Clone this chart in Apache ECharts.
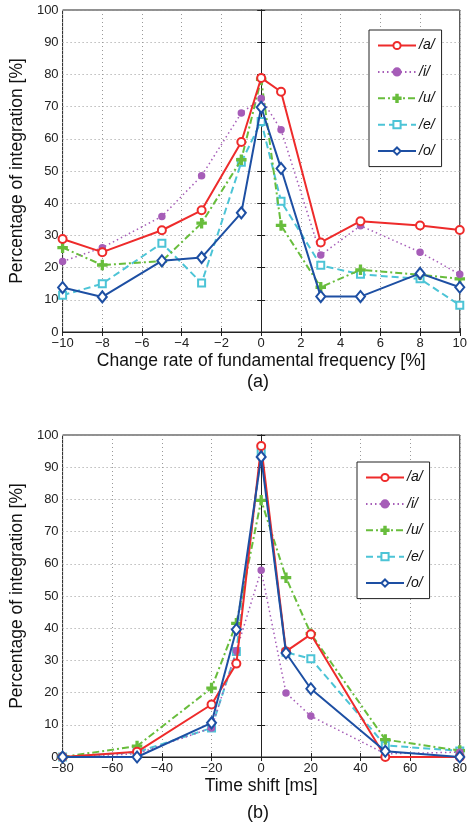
<!DOCTYPE html>
<html>
<head>
<meta charset="utf-8">
<script src="https://cdn.jsdelivr.net/npm/echarts@6/dist/echarts.min.js"></script>
<style>
html,body{margin:0;padding:0;background:#fff;}
#c{width:470px;height:825px;}
</style>
</head>
<body>
<div id="c"></div>
<script>
// Panel (a): change rate of fundamental frequency
var fX = [-10, -8, -5, -3, -1, 0, 1, 3, 5, 8, 10];
var fA = [28.9, 24.8, 31.6, 37.8, 59.0, 78.9, 74.6, 27.8, 34.4, 33.1, 31.7];
var fI = [21.9, 26.2, 35.9, 48.5, 68.0, 72.5, 62.8, 23.9, 33.0, 24.8, 17.9];
var fU = [26.2, 20.8, 22.0, 33.8, 53.5, 78.5, 33.1, 13.9, 19.3, 17.8, 16.5];
var fE = [11.4, 15.0, 27.6, 15.2, 52.7, 65.4, 40.6, 20.7, 17.9, 16.5, 8.3];
var fO = [13.8, 10.9, 22.1, 23.1, 37.0, 69.8, 50.8, 11.0, 11.0, 18.2, 13.9];

// Panel (b): time shift
var tX = [-80, -50, -20, -10, 0, 10, 20, 50, 80];
var tA = [0, 1.6, 16.3, 29.0, 96.6, 32.8, 38.1, 0, 0];
var tI = [0, 1.0, 9.0, 33.0, 58.0, 19.9, 12.7, 1.0, 1.5];
var tU = [0, 3.4, 21.4, 41.5, 79.7, 55.7, 38.3, 5.4, 2.0];
var tE = [0, 1.5, 9.0, 32.8, 94.7, 32.5, 30.5, 3.6, 1.9];
var tO = [0, 0, 10.6, 39.6, 93.2, 32.3, 21.2, 1.8, 0];

var names = ['/a/', '/i/', '/u/', '/e/', '/o/'];
var xTitleA = 'Change rate of fundamental frequency [%]';
var xTitleB = 'Time shift [ms]';
var yTitle = 'Percentage of integration [%]';

var FONT = '"Liberation Sans", Arial, sans-serif';
var plusPath = 'path://M4,0h2v4h4v2h-4v4h-2v-4h-4v-2h4z';

var styles = [
  {color: '#ee2b2b', type: 'solid', width: 2, symbol: 'emptyCircle', size: 8},
  {color: '#a65db8', type: [1.5, 3], width: 1.5, symbol: 'circle', size: 6},
  {color: '#68bd3c', type: [7, 3, 2, 3], width: 2, symbol: plusPath, size: 9},
  {color: '#4cc4d6', type: [7, 4], width: 2, symbol: 'emptyRect', size: 7},
  {color: '#1d4fa3', type: 'solid', width: 2, symbol: 'emptyDiamond', size: [9, 11]}
];

function pairs(xs, ys) { return xs.map(function (x, i) { return [x, ys[i]]; }); }
function fmt(v) { return String(v).replace('-', '\u2212'); }

function mkSeries(xs, arrs, idx) {
  return arrs.map(function (ys, k) {
    var s = styles[k];
    return {
      name: names[k], type: 'line', xAxisIndex: idx * 2, yAxisIndex: idx * 2,
      data: pairs(xs, ys), symbol: s.symbol, symbolSize: s.size,
      showSymbol: true, animation: false, z: 10 - k + (k === 4 ? 6 : 0),
      lineStyle: {color: s.color, type: s.type, width: s.width},
      itemStyle: {color: s.color, borderColor: s.color, borderWidth: 1.5}
    };
  });
}

var grids = [
  {left: 56, right: 6, top: 10, height: 322, show: true, borderColor: '#222', borderWidth: 1},
  {left: 55, right: 6, top: 435, height: 322, show: true, borderColor: '#222', borderWidth: 1}
];

function xAx(gi, min, max, itv, title, gap) {
  return [{
    type: 'value', gridIndex: gi, min: min, max: max, interval: itv,
    name: title, nameLocation: 'middle', nameGap: gap,
    nameTextStyle: {fontFamily: FONT, fontSize: 17.5, color: '#111'},
    axisLine: {lineStyle: {color: '#222', width: 1}},
    axisTick: {inside: true, length: 4, lineStyle: {color: '#222'}},
    axisLabel: {fontFamily: FONT, fontSize: 13, color: '#222', margin: 5, formatter: fmt},
    splitLine: {show: true, lineStyle: {color: '#999', type: [1, 3], width: 1}}
  }, {
    type: 'value', gridIndex: gi, min: min, max: max, interval: itv, position: 'top',
    axisLine: {show: true, lineStyle: {color: '#222'}},
    axisTick: {show: true, inside: true, length: 4, lineStyle: {color: '#222'}},
    axisLabel: {show: false}, splitLine: {show: false}
  }];
}
function yAx(gi) {
  return [{
    type: 'value', gridIndex: gi, min: 0, max: 100, interval: 10,
    name: yTitle, nameLocation: 'middle', nameGap: 30,
    nameTextStyle: {fontFamily: FONT, fontSize: 17.5, color: '#111'},
    axisLine: {show: true, lineStyle: {color: '#222', width: 1}},
    axisTick: {show: true, inside: true, length: 4, lineStyle: {color: '#222'}},
    axisLabel: {fontFamily: FONT, fontSize: 13, color: '#222', margin: 4},
    splitLine: {show: true, lineStyle: {color: '#999', type: [1, 3], width: 1}}
  }, {
    type: 'value', gridIndex: gi, min: 0, max: 100, interval: 10, position: 'right',
    axisLine: {show: true, lineStyle: {color: '#222'}},
    axisTick: {show: true, inside: true, length: 4, lineStyle: {color: '#222'}},
    axisLabel: {show: false}, splitLine: {show: false}
  }];
}

function legend(left, top) {
  return {
    orient: 'vertical', left: left, top: top, data: names,
    itemWidth: 38, itemHeight: 9, itemGap: 12.4,
    padding: [8.5, 7, 8.5, 8],
    borderColor: '#222', borderWidth: 1, backgroundColor: '#fff',
    selectedMode: false,
    textStyle: {fontFamily: FONT, fontSize: 14, fontStyle: 'italic', color: '#111', padding: [0, 0, 0, -2]}
  };
}

var chart = echarts.init(document.getElementById('c'), null, {renderer: 'canvas'});
chart.setOption({
  animation: false,
  backgroundColor: '#fff',
  grid: grids,
  xAxis: xAx(0, -10, 10, 2, xTitleA, 20).concat(xAx(1, -80, 80, 20, xTitleB, 20)),
  yAxis: yAx(0).concat(yAx(1)),
  legend: [legend(369, 30), legend(357, 462)],
  series: mkSeries(fX, [fA, fI, fU, fE, fO], 0).concat(mkSeries(tX, [tA, tI, tU, tE, tO], 1)),
  graphic: [
    {type: 'text', left: 247, top: 373, style: {text: '(a)', fontFamily: FONT, fontSize: 18, fill: '#111'}},
    {type: 'text', left: 247, top: 804, style: {text: '(b)', fontFamily: FONT, fontSize: 18, fill: '#111'}}
  ]
});
</script>
</body>
</html>
